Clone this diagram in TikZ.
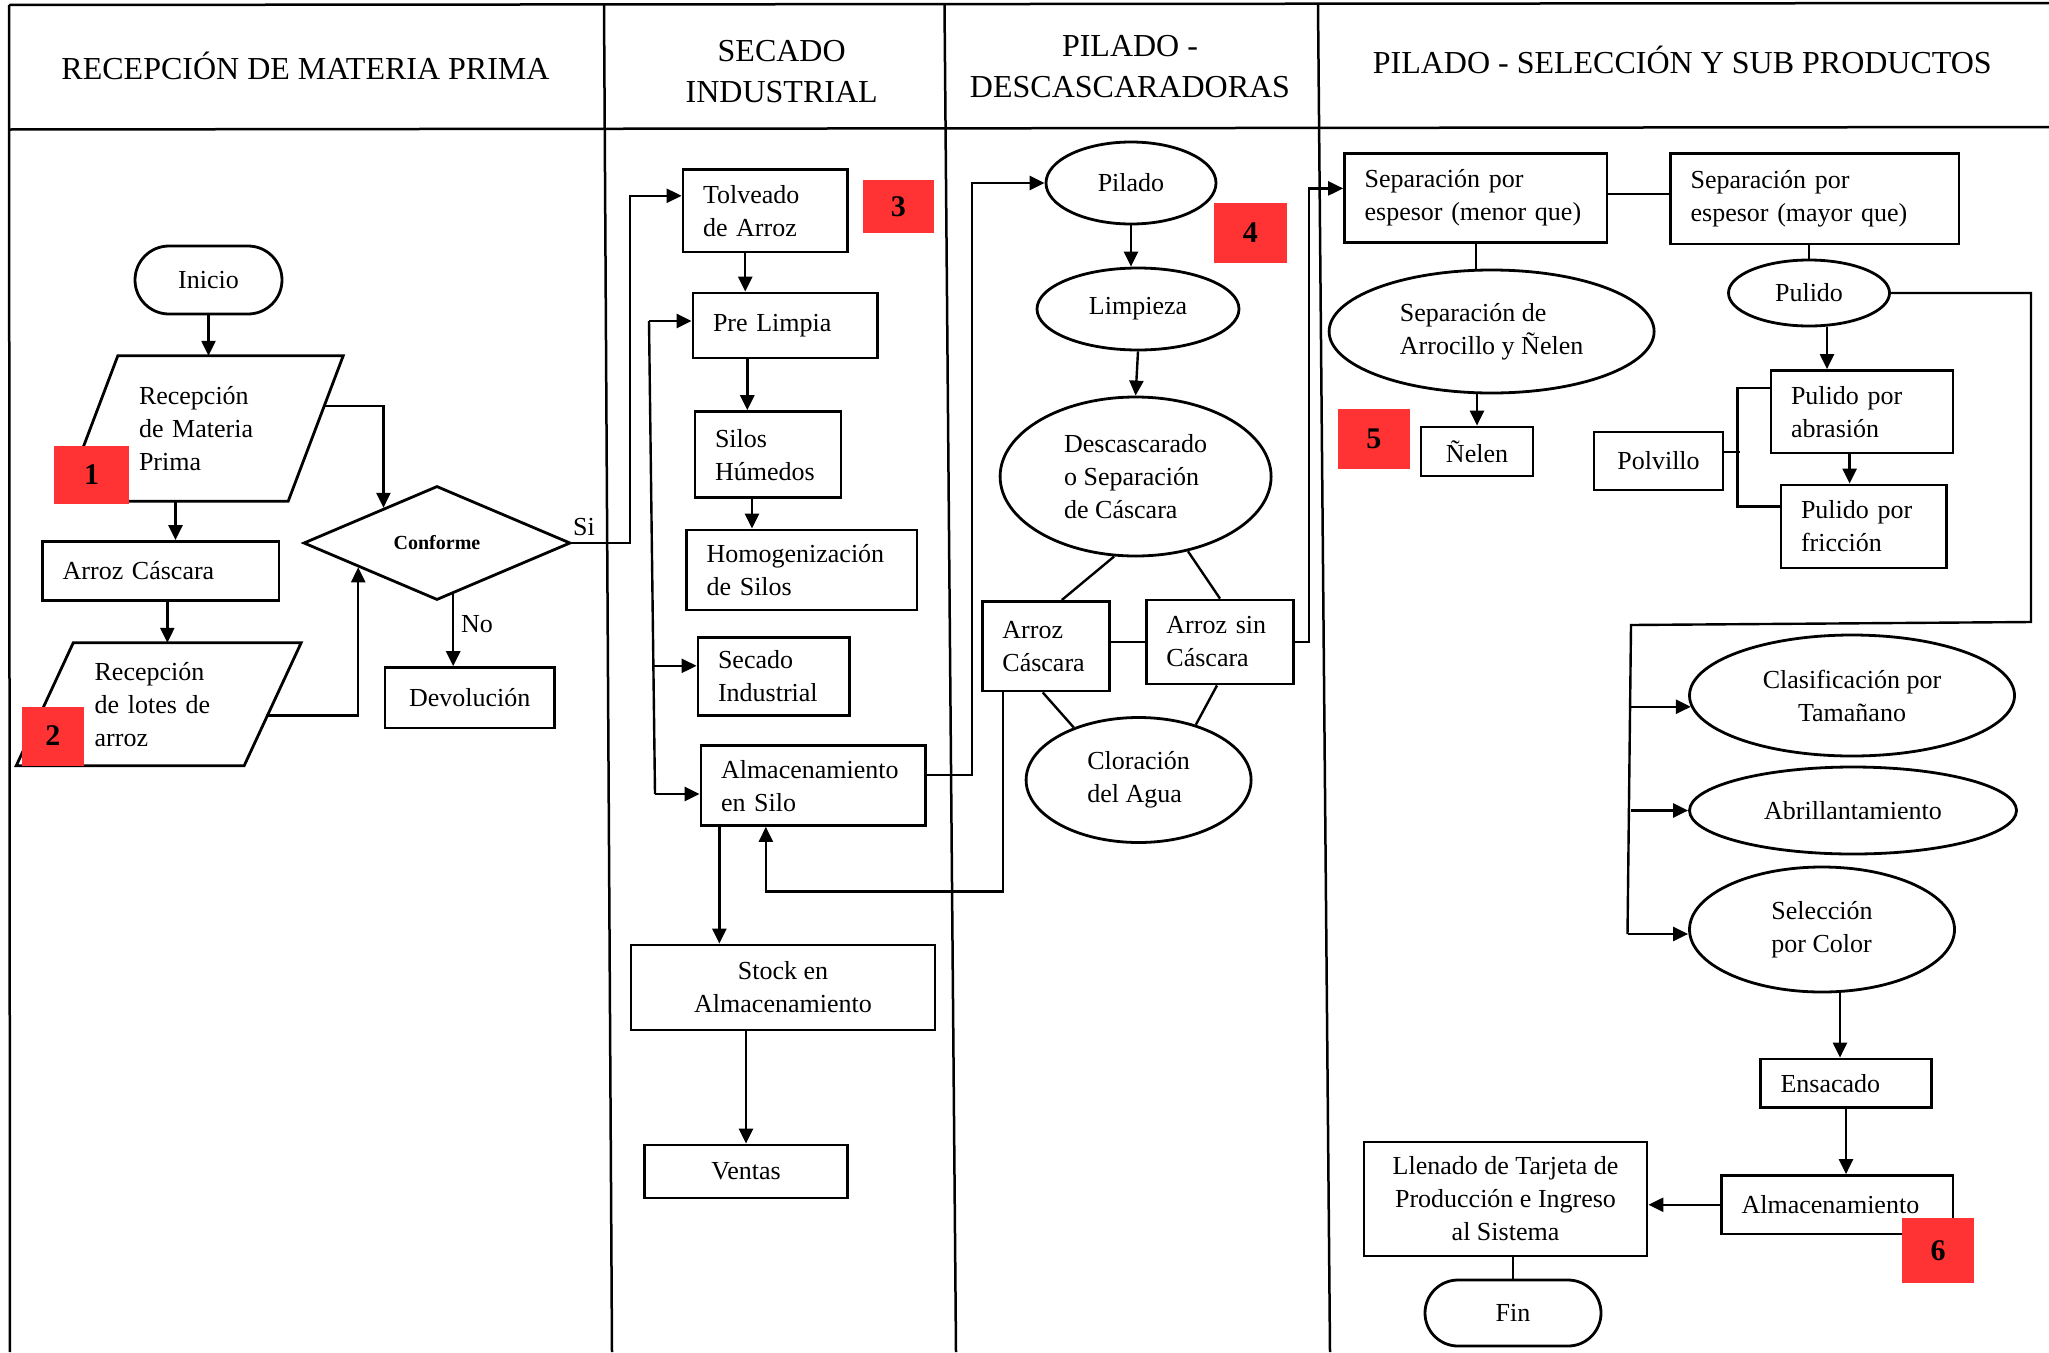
\documentclass[tikz,border=0pt]{standalone}
\usepackage{fontspec}
\setmainfont{Liberation Serif}
\usetikzlibrary{arrows.meta,shapes.geometric,shapes.misc,calc}
\newcommand\tfbody{\fontsize{26}{33}\selectfont}
\newcommand\tfhead{\fontsize{32}{41}\selectfont}
\newcommand\tfconf{\fontsize{20}{24}\selectfont\bfseries}
\newcommand\tfnum{\fontsize{30}{36}\selectfont\bfseries}
\definecolor{numred}{RGB}{255,51,51}
\begin{document}
\begin{tikzpicture}[x=1pt,y=-1pt,
  frame/.style={line width=2.5pt},
  outl/.style={line width=2.8pt, line join=miter},
  hdr/.style={font=\tfhead, align=center, inner sep=0pt},
  lbox/.style={draw, line width=2.8pt, rectangle, font=\tfbody, align=left, inner xsep=20pt, inner ysep=0pt},
  cbox/.style={draw, line width=2.8pt, rectangle, font=\tfbody, align=center, inner sep=0pt},
  ell/.style={draw, line width=2.8pt, ellipse, font=\tfbody, align=center, inner sep=0pt},
  stad/.style={draw, line width=2.8pt, rounded rectangle, font=\tfbody, inner sep=0pt},
  parabox/.style={rectangle, font=\tfbody, align=left, inner ysep=0pt},
  dia/.style={draw, line width=2.8pt, diamond, font=\tfconf, inner sep=0pt},
  num/.style={fill=numred, font=\tfnum, inner sep=0pt},
  lab/.style={font=\tfbody, inner sep=0pt},
  con/.style={line width=2.4pt},
  arr/.style={line width=2.4pt, -{Triangle[length=15pt,width=14pt]}},
]
\useasboundingbox (0,0) rectangle (2049,1352);
\fill[white] (0,0) rectangle (2049,1352);

% ---------- frame ----------
\draw[frame] (9,5) -- (2049,3);
\draw[frame] (9,5) -- (10,1352);
\draw[frame] (9,129.5) -- (2049,127);
\draw[frame] (604,5) -- (612,1352);
\draw[frame] (944.5,5) -- (956,1352);
\draw[frame] (1318,5) -- (1330,1352);

% ---------- headers ----------
\node[hdr] (h1) at (305.5,66) {RECEPCIÓN DE MATERIA PRIMA};
\node[hdr] (h2) at (781.7,72) {SECADO\\INDUSTRIAL};
\node[hdr] (h3) at (1130,67) {PILADO -\\DESCASCARADORAS};
\node[hdr] (h4) at (1682.3,60) {PILADO - SELECCIÓN Y SUB PRODUCTOS};

% ---------- column 1 ----------
\node[stad, minimum width=147pt, minimum height=68pt] (ini) at (208.5,280) {Inicio};
\node[parabox, inner xsep=76pt, text width=128pt, minimum height=145pt] (rmp) at (203,428.5) {Recepción\\de Materia\\Prima};
\draw[outl] ([xshift=55pt]rmp.north west) coordinate (rmpTL) -- (rmp.north east) coordinate (rmpTR)
   -- ([xshift=-55pt]rmp.south east) coordinate (rmpBR) -- (rmp.south west) coordinate (rmpBL) -- cycle;
\node[lbox, minimum width=236.3pt, text width=196.3pt, minimum height=58.9pt] (ac1) at (160.85,570.95) {Arroz Cáscara};
\node[parabox, inner xsep=78.2pt, text width=128.1pt, minimum height=122.5pt] (rl) at (158.7,704.25) {Recepción\\de lotes de\\arroz};
\draw[outl] ([xshift=57pt]rl.north west) coordinate (rlTL) -- (rl.north east) coordinate (rlTR)
   -- ([xshift=-57pt]rl.south east) coordinate (rlBR) -- (rl.south west) coordinate (rlBL) -- cycle;
\node[dia, minimum width=267pt, minimum height=114pt] (conf) at (437,543) {Conforme};
\node[cbox, minimum width=169.5pt, minimum height=60.4pt] (dev) at (469.75,697.8) {Devolución};
\node[lab] (si) at (584,527) {Si};
\node[lab] (no) at (477,624) {No};

% ---------- column 2 ----------
\node[lbox, minimum width=164.5pt, text width=124.5pt, minimum height=82.4pt] (tol) at (765.25,210.8) {Tolveado\\de Arroz};
\node[lbox, minimum width=184.6pt, text width=144.6pt, minimum height=65pt] (pl) at (785.3,325.5) {Pre Limpia};
\node[lbox, minimum width=146pt, text width=106pt, minimum height=86.2pt] (sh) at (768,454.7) {Silos\\Húmedos};
\node[lbox, minimum width=230.4pt, text width=190.4pt, minimum height=80pt] (hom) at (801.8,570) {Homogenización\\de Silos};
\node[lbox, minimum width=151.5pt, text width=111.5pt, minimum height=78.2pt] (sec) at (773.75,676.5) {Secado\\Industrial};
\node[lbox, minimum width=224.7pt, text width=184.7pt, minimum height=79.6pt] (alm) at (813.35,785.6) {Almacenamiento\\en Silo};
\node[cbox, minimum width=304pt, minimum height=85pt] (stock) at (783,987.5) {Stock en\\Almacenamiento};
\node[cbox, minimum width=203pt, minimum height=53pt] (ven) at (746,1171.5) {Ventas};

% ---------- column 3 ----------
\node[ell, minimum width=170pt, minimum height=82pt] (pil) at (1131,183) {Pilado};
\node[ell, minimum width=202pt, minimum height=82pt] (lim) at (1138,309) {Limpieza};
\node[ell, align=left, minimum width=271pt, minimum height=159pt] (des) at (1135.6,476.5) {Descascarado\\o Separación\\de Cáscara};
\node[lbox, minimum width=127.4pt, text width=87.4pt, minimum height=89.6pt] (ac3) at (1046.1,646.2) {Arroz\\Cáscara};
\node[lbox, minimum width=147.1pt, text width=107.1pt, minimum height=84pt] (asc) at (1220,642) {Arroz sin\\Cáscara};
\node[ell, align=left, minimum width=225pt, minimum height=125pt] (clo) at (1138.6,780) {Cloración\\del Agua};

% ---------- column 4 ----------
\node[lbox, minimum width=262.4pt, text width=222.4pt, minimum height=88.8pt] (spmen) at (1475.8,198) {Separación por\\espesor (menor que)};
\node[lbox, minimum width=288.4pt, text width=248.4pt, minimum height=90.4pt] (spmay) at (1814.8,198.8) {Separación por\\espesor (mayor que)};
\node[ell, align=left, minimum width=325pt, minimum height=123pt] (sar) at (1491.6,331.5) {Separación de\\Arrocillo y Ñelen};
\node[cbox, minimum width=112pt, minimum height=49pt] (nel) at (1477,451.5) {Ñelen};
\node[ell, minimum width=161pt, minimum height=66pt] (pul) at (1809,293) {Pulido};
\node[lbox, minimum width=182pt, text width=142pt, minimum height=82.5pt] (pab) at (1862,411.75) {Pulido por\\abrasión};
\node[lbox, minimum width=165.5pt, text width=125.5pt, minimum height=83pt] (pfr) at (1863.75,526.5) {Pulido por\\fricción};
\node[cbox, minimum width=129pt, minimum height=58pt] (pol) at (1658.5,461) {Polvillo};
\node[ell, minimum width=325pt, minimum height=121pt] (cla) at (1852,695.5) {Clasificación por\\Tamañano};
\node[ell, minimum width=327pt, minimum height=87pt] (abr) at (1853,810.5) {Abrillantamiento};
\node[ell, align=left, minimum width=265pt, minimum height=125pt] (sel) at (1822,929.5) {Selección\\por Color};
\node[lbox, minimum width=171pt, text width=131pt, minimum height=48.4pt] (ens) at (1846,1083.2) {Ensacado};
\node[lbox, minimum width=231.4pt, text width=191.4pt, minimum height=58.5pt] (alm2) at (1837.3,1204.75) {Almacenamiento};
\node[cbox, minimum width=283pt, minimum height=114pt] (lle) at (1505.5,1199) {Llenado de Tarjeta de\\Producción e Ingreso\\al Sistema};
\node[stad, minimum width=176pt, minimum height=66pt] (fin) at (1513,1313) {Fin};

% ---------- connectors column 1 ----------
\draw[arr] (ini.south) -- (ini.south |- rmpTL);
\coordinate (rmpb) at ($(rmpBL)!0.5!(rmpBR)$);
\draw[arr] (rmpb) -- (rmpb |- ac1.north);
\draw[arr] ([xshift=6.5pt]ac1.south) -- ([xshift=6.5pt]ac1.south |- rlTL);
\coordinate (rlr) at ($(rlTR)!0.59!(rlBR)$);
\coordinate (cfll) at ($(conf.west)!0.416!(conf.south)$);
\draw[arr] (rlr) -| (cfll);
\coordinate (rmpr) at ($(rmpTR)!0.345!(rmpBR)$);
\coordinate (cful) at ($(conf.west)!0.603!(conf.north)$);
\draw[arr] (rmpr) -| (cful);
\draw[arr] (conf.east) -- ++(58pt,0) |- ([yshift=15pt]tol.west);
\coordinate (cno) at ($(conf.south)!0.12!(conf.east)$);
\draw[arr] (cno) -- (cno |- dev.north);

% ---------- connectors column 2 ----------
\draw[arr] ([xshift=-20pt]tol.south) -- ([xshift=-20pt]tol.south |- pl.north);
\draw[arr] ([xshift=-38pt]pl.south) -- ([xshift=-38pt]pl.south |- sh.north);
\draw[arr] ([xshift=-16pt]sh.south) -- ([xshift=-16pt]sh.south |- hom.north);
\coordinate (busT) at (649,321);
\coordinate (busB) at (655,794);
\coordinate (busS) at ($(busT)!0.729!(busB)$);
\draw[con] (busT) -- (busB);
\draw[arr] (busT) -- (busT -| pl.west);
\draw[arr] (busS) -- (busS -| sec.west);
\draw[arr] (busB) -- (busB -| alm.west);
\draw[arr] ([xshift=-94pt]alm.south) -- ([xshift=-94pt]alm.south |- stock.north);
\draw[arr] (ven.north |- stock.south) -- (ven.north);
\draw[arr] ([yshift=10.6pt]alm.east) -- ++(45pt,0) |- (pil.west);
\draw[arr] ([xshift=-43pt]ac3.south) -- ++(0,199) -| ([xshift=-47.5pt]alm.south);

% ---------- connectors column 3 ----------
\draw[arr] (pil.south) -- (pil.south |- lim.north);
\draw[arr] (lim.south) -- (des.north);
\draw[con] (des.-105.5) -- ([xshift=15.7pt]ac3.north);
\draw[con] (des.-55) -- (asc.north);
\draw[con] (asc.west -| ac3.east) -- (asc.west);
\draw[con] ([xshift=-3.4pt]ac3.south) -- (clo.141);
\draw[con] ([xshift=-3pt]asc.south) -- (clo.44);
\draw[arr] (asc.east) -- ++(14pt,0) |- ([yshift=9.6pt]spmen.west);

% ---------- connectors column 4 ----------
\draw[con] ([yshift=4pt]spmen.east) -- ([yshift=4pt]spmen.east -| spmay.west);
\draw[con] (spmen.south) -- (spmen.south |- sar.north);
\draw[arr] (nel.north |- sar.south) -- (nel.north);
\draw[con] (pul.north |- spmay.south) -- (pul.north);
\draw[arr] ([xshift=18pt]pul.south) -- ([xshift=18pt]pul.south |- pab.north);
\draw[arr] ([xshift=-12.4pt]pab.south) -- ([xshift=-12.4pt]pab.south |- pfr.north);
\draw[con] ([yshift=9.3pt]pol.east) -- ++(16pt,0);
\draw[con] ([yshift=24pt]pab.west) -- ++(-32pt,0) |- ([yshift=20pt]pfr.west);
\coordinate (c1) at (2031,622);
\coordinate (c2) at (1631,625);
\coordinate (c3) at (1627.5,934);
\draw[con] (pul.east) -| (c1) -- (c2) -- (c3);
\draw[arr] (c2 |- cla.184) -- (cla.184);
\draw[arr] (c2 |- abr.west) -- (abr.west);
\draw[arr] (c3) -- (c3 -| sel.west);
\draw[arr] ([xshift=18pt]sel.south) -- ([xshift=18pt]sel.south |- ens.north);
\draw[arr] (ens.south) -- (ens.south |- alm2.north);
\draw[arr] (alm2.west) -- (alm2.west -| lle.east);
\draw[con] (fin.north |- lle.south) -- (fin.north);

% ---------- red number tags ----------
\node[num, minimum width=75pt, minimum height=58pt] (r1) at (91.5,475) {1};
\node[num, minimum width=62.3pt, minimum height=59pt] (r2) at (52.85,736) {2};
\node[num, minimum width=71.5pt, minimum height=53.5pt] (r3) at (898.25,206.25) {3};
\node[num, minimum width=72.6pt, minimum height=59.5pt] (r4) at (1250.3,232.75) {4};
\node[num, minimum width=71.6pt, minimum height=60.2pt] (r5) at (1373.8,438.6) {5};
\node[num, minimum width=72pt, minimum height=65.7pt] (r6) at (1938,1250.5) {6};
\end{tikzpicture}
\end{document}
